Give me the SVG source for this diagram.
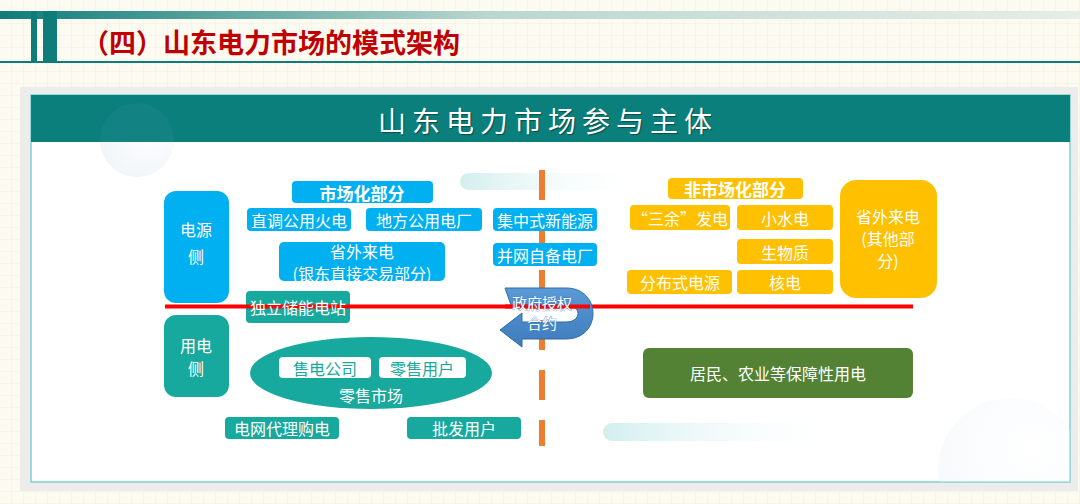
<svg xmlns="http://www.w3.org/2000/svg" width="1080" height="504" viewBox="0 0 1080 504">
<defs>
<linearGradient id="topbar" x1="0" y1="0" x2="1" y2="0">
<stop offset="0" stop-color="#0e7c78"/>
<stop offset="0.45" stop-color="#b9d6cf"/>
<stop offset="1" stop-color="#e6eee6"/>
</linearGradient>
<linearGradient id="fadebar" x1="0" y1="0" x2="1" y2="0">
<stop offset="0" stop-color="#d3eeee"/>
<stop offset="1" stop-color="#ffffff" stop-opacity="0"/>
</linearGradient>
<radialGradient id="circ" cx="0.65" cy="0.35" r="0.75">
<stop offset="0" stop-color="#ffffff"/>
<stop offset="1" stop-color="#e6eef5"/>
</radialGradient>
<linearGradient id="arrowg" x1="0" y1="0" x2="0" y2="1">
<stop offset="0" stop-color="#5a9ad6"/>
<stop offset="1" stop-color="#3d7bbb"/>
</linearGradient>
<pattern id="grid" width="12" height="12" patternUnits="userSpaceOnUse">
<rect width="12" height="12" fill="#fcfbf2"/>
<path d="M12 0V12M0 12H12" stroke="#f4f0dc" stroke-width="1"/>
</pattern>
<clipPath id="inner"><rect x="31" y="95" width="1039" height="387"/></clipPath>
<clipPath id="below"><rect x="31" y="142" width="1039" height="340"/></clipPath>
<clipPath id="head"><rect x="31" y="95" width="1039" height="47"/></clipPath>
</defs>
<style>
text{font-family:"Noto Sans CJK SC","Microsoft YaHei",sans-serif;}
.w{fill:#ffffff;font-size:16px;text-anchor:middle;dominant-baseline:central;}
.wb{fill:#ffffff;font-size:17px;font-weight:bold;text-anchor:middle;dominant-baseline:central;}
.t{fill:#17a89e;font-size:16px;text-anchor:middle;dominant-baseline:central;}
.blue{fill:#00b0f0;}
.teal{fill:#17a89e;}
.yel{fill:#ffc000;}
</style>
<rect width="1080" height="504" fill="url(#grid)"/>
<!-- title bar -->
<rect x="0" y="11" width="1080" height="8" fill="url(#topbar)"/>
<rect x="31" y="11" width="6" height="51" fill="#0e7c78"/>
<rect x="43" y="11" width="14" height="51" fill="#0e7c78"/>
<rect x="0" y="61" width="1080" height="2" fill="#0e7c78"/>
<text x="82" y="53" font-size="27" font-weight="bold" fill="#c00000">（四）山东电力市场的模式架构</text>
<!-- card -->
<rect x="20" y="87" width="1058" height="404" fill="#ececea"/>
<rect x="31" y="95" width="1039" height="387" fill="#ffffff" stroke="#7fcfcf" stroke-width="1.5"/>
<g clip-path="url(#inner)">
<circle cx="1010" cy="470" r="72" fill="url(#circ)" opacity="0.35"/>
</g>
<rect x="31" y="95" width="1039" height="47" fill="#0a7f7b"/>
<circle cx="137" cy="140" r="37" fill="url(#circ)" opacity="0.6" clip-path="url(#below)"/>
<circle cx="137" cy="140" r="37" fill="#2a8c9a" opacity="0.25" clip-path="url(#head)"/>
<text x="548" y="120" font-size="28" fill="#ffffff" text-anchor="middle" dominant-baseline="central" letter-spacing="6" style="text-shadow:1px 1px 1px rgba(0,0,0,0.4)">山东电力市场参与主体</text>
<rect x="460" y="173" width="190" height="17" rx="8.5" fill="url(#fadebar)"/>
<rect x="603" y="423" width="250" height="18" rx="9" fill="url(#fadebar)"/>
<!-- connectors / lines -->
<g id="connectors">
<line x1="542" y1="170" x2="542" y2="446" stroke="#ed7d31" stroke-width="6" stroke-dasharray="30 20"/>
<line x1="165" y1="306.5" x2="913" y2="306.5" stroke="#ff0000" stroke-width="4"/>
</g>
<!-- power side -->
<g id="n-power-side"><rect x="164" y="191" width="65" height="112" rx="12" class="blue"/><text class="w" x="196" y="229" font-size="17">电源</text><text class="w" x="196" y="256" font-size="17">侧</text></g>
<g id="n-market"><rect x="292" y="181" width="141" height="22" rx="4" class="blue"/><text class="wb" x="362" y="192">市场化部分</text></g>
<g id="n-zhidiao"><rect x="247" y="208" width="104" height="23" rx="4" class="blue"/><text class="w" x="299" y="219.5">直调公用火电</text></g>
<g id="n-difang"><rect x="366" y="208" width="116" height="23" rx="4" class="blue"/><text class="w" x="424" y="219.5">地方公用电厂</text></g>
<g id="n-shengwai1"><rect x="279" y="242" width="166" height="39" rx="5" class="blue"/><text class="w" x="362" y="251" font-size="14.5">省外来电</text><text class="w" x="362" y="273" font-size="14.5">(银东直接交易部分)</text></g>
<g id="n-jizhong"><rect x="493" y="208" width="104" height="23" rx="4" class="blue"/><text class="w" x="545" y="219.5">集中式新能源</text></g>
<g id="n-bingwang"><rect x="493" y="243" width="104" height="23" rx="4" class="blue"/><text class="w" x="545" y="254.5">并网自备电厂</text></g>
<g id="n-chuneng"><rect x="246" y="291" width="104" height="32" rx="4" class="teal"/><line x1="246" y1="306.5" x2="350" y2="306.5" stroke="#ff0000" stroke-width="4"/><text class="w" x="298" y="307">独立储能电站</text></g>
<!-- non-market -->
<g id="n-nonmarket"><rect x="668" y="178" width="135" height="21" rx="4" class="yel"/><text class="wb" x="735" y="188.5">非市场化部分</text></g>
<g id="n-sanyu"><rect x="630" y="205" width="100" height="25" rx="4" class="yel"/><text class="w" x="680" y="217.5">“三余”发电</text></g>
<g id="n-xiaoshui"><rect x="737" y="205" width="96" height="25" rx="4" class="yel"/><text class="w" x="785" y="217.5">小水电</text></g>
<g id="n-shengwu"><rect x="737" y="239" width="96" height="25" rx="4" class="yel"/><text class="w" x="785" y="251.5">生物质</text></g>
<g id="n-fenbu"><rect x="627" y="270" width="105" height="24" rx="4" class="yel"/><text class="w" x="680" y="282">分布式电源</text></g>
<g id="n-he"><rect x="737" y="270" width="96" height="24" rx="4" class="yel"/><text class="w" x="785" y="282">核电</text></g>
<g id="n-shengwai2"><rect x="840" y="180" width="97" height="118" rx="16" class="yel"/><text class="w" x="888" y="216" font-size="14.5">省外来电</text><text class="w" x="888" y="238" font-size="14.5">(其他部</text><text class="w" x="888" y="260" font-size="14.5">分)</text></g>
<!-- arrow -->
<g id="n-contract">
<path d="M505 288 L566 288 C602 288 602 339 566 339 L522 339 L522 347 L500 330 L522 313 L522 322 L566 322 C582 322 582 305 566 305 L511 305 Z" fill="url(#arrowg)" stroke="#2f6da8" stroke-width="1"/>
<line x1="505" y1="306.5" x2="590" y2="306.5" stroke="#ff0000" stroke-width="4"/>
<text x="542" y="302" font-size="15" fill="#ffffff" stroke="#3d7bbb" stroke-width="0.6" paint-order="stroke" text-anchor="middle" dominant-baseline="central">政府授权</text>
<text x="542" y="322" font-size="15" fill="#ffffff" stroke="#3d7bbb" stroke-width="0.6" paint-order="stroke" text-anchor="middle" dominant-baseline="central">合约</text>
</g>
<!-- consumption side -->
<g id="n-use-side"><rect x="164" y="315" width="65" height="82" rx="12" class="teal"/><text class="w" x="196" y="345" font-size="17">用电</text><text class="w" x="196" y="368" font-size="17">侧</text></g>
<g id="n-retail"><ellipse cx="371" cy="373" rx="121" ry="36" class="teal"/><rect x="279" y="357" width="92" height="21" rx="4" fill="#ffffff"/><text class="t" x="325" y="367.5">售电公司</text><rect x="379" y="357" width="87" height="21" rx="4" fill="#ffffff"/><text class="t" x="422" y="367.5">零售用户</text><text class="w" x="371" y="395">零售市场</text></g>
<g id="n-grid"><rect x="225" y="417" width="114" height="22" rx="4" class="teal"/><text class="w" x="282" y="428">电网代理购电</text></g>
<g id="n-wholesale"><rect x="407" y="417" width="114" height="22" rx="4" class="teal"/><text class="w" x="464" y="428">批发用户</text></g>
<g id="n-resident"><rect x="643" y="348" width="270" height="50" rx="6" fill="#548235"/><text class="w" x="778" y="373">居民、农业等保障性用电</text></g>
</svg>
